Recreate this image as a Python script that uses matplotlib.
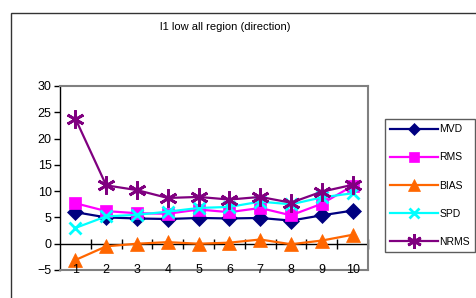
import matplotlib.pyplot as plt
from matplotlib.patches import Rectangle

plt.rcParams['font.family'] = ['Liberation Sans', 'DejaVu Sans']

## data
categories = [1, 2, 3, 4, 5, 6, 7, 8, 9, 10]
mvd = [6.0, 5.0, 4.8, 4.7, 4.9, 4.8, 4.9, 4.4, 5.4, 6.3]
rms = [7.7, 6.2, 5.8, 5.7, 6.5, 6.0, 6.8, 5.4, 7.6, 11.0]
bias = [-3.1, -0.5, 0.0, 0.3, 0.0, 0.2, 0.8, -0.1, 0.6, 1.7]
spd = [3.0, 5.2, 5.5, 6.1, 6.8, 7.0, 8.0, 7.5, 8.8, 9.6]
nrms = [23.8, 11.1, 10.2, 8.7, 8.9, 8.4, 8.9, 7.8, 9.9, 11.2]
y_ticks = [-5, 0, 5, 10, 15, 20, 25, 30]

series = [
    ("MVD", mvd, "#000080", "D", 8),
    ("RMS", rms, "#FF00FF", "s", 9),
    ("BIAS", bias, "#FF6600", "^", 10),
    ("SPD", spd, "#00FFFF", "x", 9),
    ("NRMS", nrms, "#800080", (6, 2, 0), 13),
]

fig = plt.figure(figsize=(4.77, 2.98), dpi=100)

# outer chart border (cut off right and bottom)
fig.patches.append(Rectangle((11 / 477, -0.1), 1.2, (298 - 13) / 298 + 0.1,
                             transform=fig.transFigure, fill=False,
                             edgecolor="#333333", linewidth=1.0))

ax = fig.add_axes([60 / 477, 28 / 298, 308 / 477, 184 / 298])

for name, vals, col, mk, ms in series:
    ax.plot(categories, vals, color=col, marker=mk, markersize=ms,
            markeredgewidth=2 if mk in ("x", (6, 2, 0)) else 0.5,
            markeredgecolor=col, linewidth=1.6, label=name, clip_on=False)

ax.set_xlim(0.5, 10.5)
ax.set_ylim(-5, 30)
ax.set_yticks(y_ticks)
ax.tick_params(axis="y", direction="out", length=4, width=1, labelsize=9,
               pad=2, colors="black")
ax.set_xticks([])

for s in ["top", "right", "bottom"]:
    ax.spines[s].set_color("#808080")
    ax.spines[s].set_linewidth(1.5)
ax.spines["left"].set_color("black")
ax.spines["left"].set_linewidth(1.0)

# category axis crossing at zero
ax.axhline(0, color="black", linewidth=1.0, zorder=1)
ax.plot([c + 0.5 for c in categories], [0] * len(categories), linestyle="none",
        marker="|", markersize=7, color="black", markeredgewidth=1.0,
        clip_on=False, zorder=1)
for c in categories:
    ax.text(c, -5, str(c), ha="center", va="center", fontsize=9)

fig.text(225 / 477, 1 - 27 / 298, "l1 low all region (direction)",
         ha="center", va="center", fontsize=8)

leg = fig.legend(loc="upper left", bbox_to_anchor=(385 / 477, 1 - 119 / 298),
                 fontsize=7.5, handlelength=4.6, handletextpad=0.1,
                 labelspacing=1.75, borderaxespad=0, borderpad=0.5,
                 fancybox=False, frameon=True)
leg.get_frame().set_edgecolor("#333333")
leg.get_frame().set_linewidth(1.0)
for h in leg.legend_handles:
    h.set_markersize(h.get_markersize() * 0.8)

fig.savefig("out.png", dpi=100)
